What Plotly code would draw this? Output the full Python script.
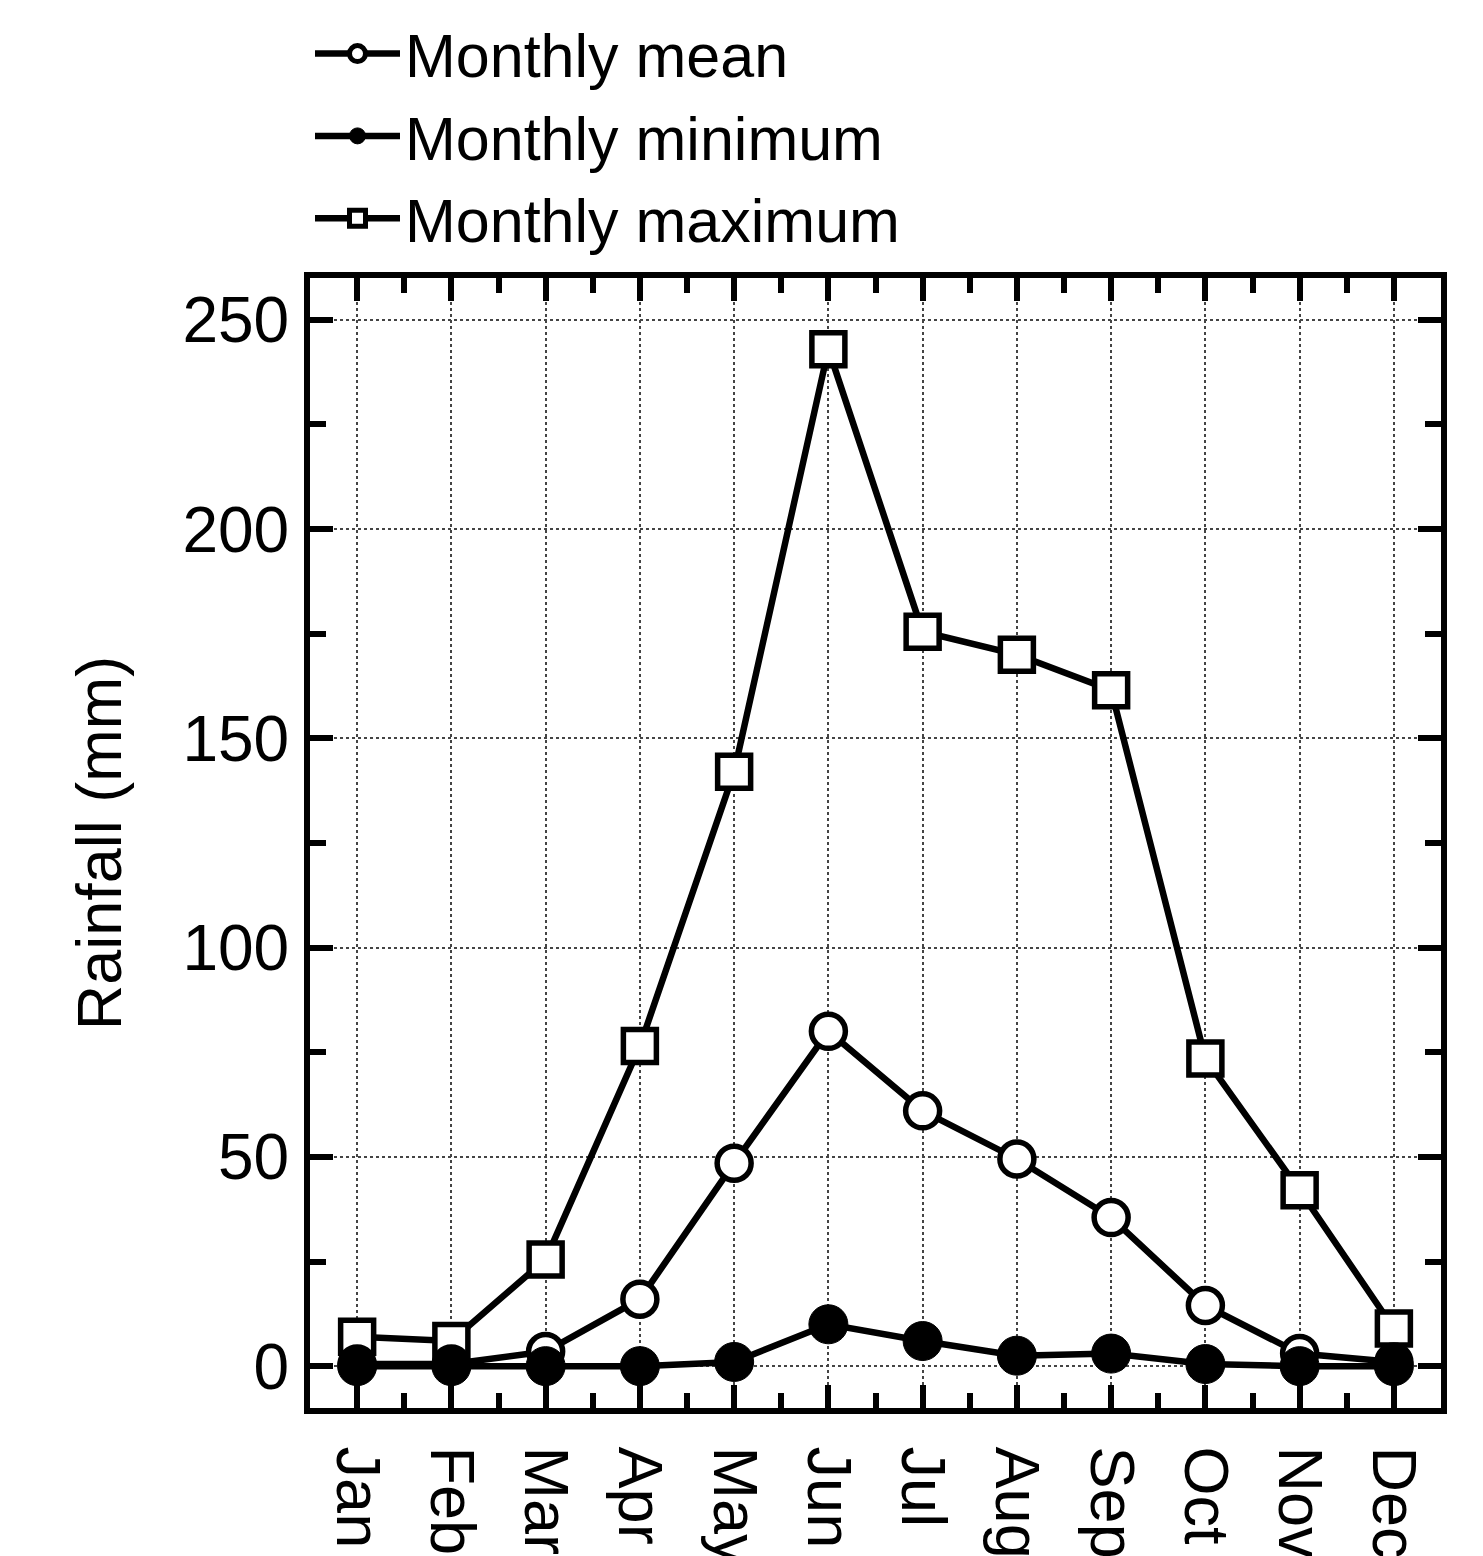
import plotly.graph_objects as go

months = ["Jan", "Feb", "Mar", "Apr", "May", "Jun", "Jul", "Aug", "Sep", "Oct", "Nov", "Dec"]
month_pos = [1, 2, 3, 4, 5, 6, 7, 8, 9, 10, 11, 12]
monthly_mean = [0.5, 0.5, 3.5, 16, 48.5, 80, 61, 49.5, 35.5, 14.5, 3, 1]
monthly_min = [0, 0, 0, 0, 1, 10, 6, 2.5, 3, 0.5, 0, 0]
monthly_max = [7, 6, 25.5, 76.5, 142, 243, 175.5, 170, 161.5, 73.5, 42, 9]
y_ticks = [0, 50, 100, 150, 200, 250]

FONT = "Liberation Sans, Arial, Helvetica, sans-serif"
LW = 6.5

fig = go.Figure()
fig.add_trace(go.Scatter(
    x=month_pos, y=monthly_max, mode="lines+markers", name="Monthly maximum",
    legendrank=3,
    line=dict(color="black", width=LW),
    marker=dict(symbol="square", size=33, color="white", line=dict(color="black", width=5.5)),
))
fig.add_trace(go.Scatter(
    x=month_pos, y=monthly_mean, mode="lines+markers", name="Monthly mean",
    legendrank=1,
    line=dict(color="black", width=LW),
    marker=dict(symbol="circle", size=34, color="white", line=dict(color="black", width=5.5)),
))
fig.add_trace(go.Scatter(
    x=month_pos, y=monthly_min, mode="lines+markers", name="Monthly minimum",
    legendrank=2,
    line=dict(color="black", width=LW),
    marker=dict(symbol="circle", size=39, color="black", line=dict(color="black", width=1)),
))

fig.update_layout(
    width=1483, height=1556,
    margin=dict(l=302, r=50, t=270, b=156, autoexpand=False),
    paper_bgcolor="white", plot_bgcolor="white",
    font=dict(family=FONT, color="black", size=60),
    legend=dict(
        x=0.0, y=1.012, xanchor="left", yanchor="bottom",
        font=dict(size=61, family=FONT, color="black"),
        bgcolor="rgba(0,0,0,0)", itemwidth=85, tracegroupgap=0,
        itemsizing="trace",
    ),
    showlegend=True,
)

fig.update_xaxes(
    range=[0.5, 12.5], tickmode="array", tickvals=month_pos, ticktext=months,
    tickangle=90, ticks="inside", ticklen=23, tickwidth=5.5, tickcolor="black",
    showline=True, linewidth=6, linecolor="black", mirror="allticks",
    showgrid=True, gridcolor="#444444", gridwidth=2, griddash="dot",
    zeroline=False, tickfont=dict(size=63, family=FONT), ticklabelstandoff=20,
    minor=dict(tickmode="array", tickvals=[m + 0.5 for m in month_pos[:-1]],
               ticks="inside", ticklen=15, tickwidth=5.5, tickcolor="black", showgrid=False),
)
fig.update_yaxes(
    range=[-10, 260], tickmode="array", tickvals=y_ticks,
    ticks="inside", ticklen=23, tickwidth=5.5, tickcolor="black",
    showline=True, linewidth=6, linecolor="black", mirror="allticks",
    showgrid=True, gridcolor="#444444", gridwidth=2, griddash="dot",
    zeroline=False, tickfont=dict(size=64, family=FONT), ticklabelstandoff=2,
    title=dict(text="Rainfall (mm)", font=dict(size=63, family=FONT), standoff=42),
    minor=dict(tickmode="array", tickvals=[25, 75, 125, 175, 225],
               ticks="inside", ticklen=16, tickwidth=5.5, tickcolor="black", showgrid=False),
)

fig.write_html("out.html")
